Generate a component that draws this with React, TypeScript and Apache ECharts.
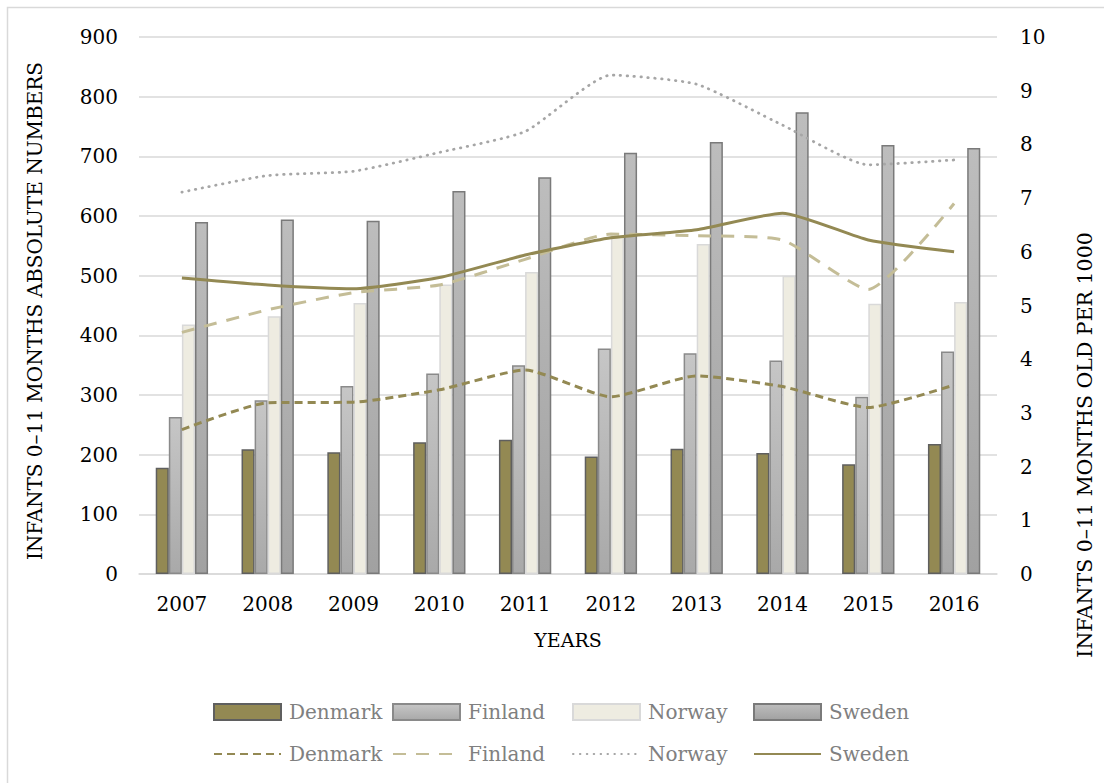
import React, { useEffect, useRef } from "react";
import * as echarts from "echarts";

const years = ["2007", "2008", "2009", "2010", "2011", "2012", "2013", "2014", "2015", "2016"];
const countries = ["Denmark", "Finland", "Norway", "Sweden"];

// Absolute numbers (left axis)
const denmarkAbs = [178, 209, 204, 221, 225, 197, 210, 203, 184, 218];
const finlandAbs = [263, 291, 315, 336, 350, 378, 370, 358, 297, 373];
const norwayAbs = [418, 432, 454, 485, 506, 567, 553, 500, 453, 456];
const swedenAbs = [590, 594, 592, 642, 665, 706, 724, 774, 719, 714];

// Per 1000 (right axis)
const denmarkRate = [2.69, 3.19, 3.2, 3.43, 3.8, 3.3, 3.69, 3.49, 3.1, 3.52];
const finlandRate = [4.5, 4.92, 5.24, 5.38, 5.86, 6.33, 6.3, 6.22, 5.3, 6.9];
const norwayRate = [7.11, 7.42, 7.5, 7.85, 8.24, 9.29, 9.12, 8.36, 7.62, 7.71];
const swedenRate = [5.51, 5.38, 5.31, 5.52, 5.94, 6.26, 6.41, 6.72, 6.22, 6.0];

const leftTicks = { min: 0, max: 900, interval: 100 };
const rightTicks = { min: 0, max: 10, interval: 1 };

const FONT = "DejaVu Serif";

export default function App() {
  const ref = useRef<HTMLDivElement>(null);

  useEffect(() => {
    document.body.style.margin = "0";
    const chart = echarts.init(ref.current!, null, { renderer: "svg" });

    const grad = (top: string, bottom: string) =>
      new echarts.graphic.LinearGradient(0, 0, 0, 1, [
        { offset: 0, color: top },
        { offset: 1, color: bottom },
      ]);

    const barStyles = [
      { color: "#938953", borderColor: "#5f5f5f", borderWidth: 1.5 },
      { color: grad("#c6c6c6", "#a9a9a9"), borderColor: "#8a8a8a", borderWidth: 1.5 },
      { color: "#eeece1", borderColor: "#d9d9d9", borderWidth: 1.5 },
      { color: grad("#bdbdbd", "#a1a1a1"), borderColor: "#7a7a7a", borderWidth: 1.5 },
    ];
    const absData = [denmarkAbs, finlandAbs, norwayAbs, swedenAbs];
    const rateData = [denmarkRate, finlandRate, norwayRate, swedenRate];
    const lineStyles: any[] = [
      { color: "#938953", width: 3, type: [8, 5] },
      { color: "#c4bd97", width: 3, type: [13, 10] },
      { color: "#a6a6a6", width: 2.75, type: [0.5, 6.4], cap: "round" },
      { color: "#938953", width: 3, type: "solid" },
    ];

    const barSeries = countries.map((c, i) => ({
      name: c,
      type: "bar",
      yAxisIndex: 0,
      data: absData[i],
      barGap: "0%",
      barCategoryGap: "39%",
      itemStyle: barStyles[i],
      emphasis: { disabled: true },
    }));
    const lineSeries = countries.map((c, i) => ({
      name: c + " rate",
      type: "line",
      yAxisIndex: 1,
      data: rateData[i],
      smooth: 0.18,
      symbol: "none",
      showSymbol: false,
      lineStyle: lineStyles[i],
      itemStyle: { color: lineStyles[i].color },
      emphasis: { disabled: true },
      z: 3,
    }));

    const iconX = [213, 392, 572, 753];
    const legends: any[] = [];
    countries.forEach((c, i) => {
      legends.push({
        data: [{ name: c, icon: "rect" }],
        left: iconX[i],
        top: 702,
        padding: 0,
        itemWidth: 67,
        itemHeight: 16,
        selectedMode: false,
        textStyle: { fontFamily: FONT, fontSize: 20, color: "#808080", padding: [0, 0, 0, 3] },
      });
      legends.push({
        data: [{ name: c + " rate" }],
        left: iconX[i],
        top: 744,
        padding: 0,
        itemWidth: 67,
        itemHeight: 16,
        selectedMode: false,
        itemStyle: { opacity: 0, borderWidth: 0 },
        formatter: (n: string) => n.replace(" rate", ""),
        textStyle: { fontFamily: FONT, fontSize: 20, color: "#808080", padding: [0, 0, 0, 3] },
      });
    });

    chart.setOption({
      animation: false,
      backgroundColor: "#ffffff",
      grid: { left: 139, right: 107, top: 37, bottom: 209, containLabel: false },
      legend: legends,
      xAxis: {
        type: "category",
        data: years,
        boundaryGap: true,
        axisTick: { show: false },
        axisLine: { lineStyle: { color: "#d9d9d9", width: 1.5 } },
        axisLabel: { fontFamily: FONT, fontSize: 20, color: "#000", margin: 20 },
        name: "YEARS",
        nameLocation: "middle",
        nameGap: 56,
        nameTextStyle: { fontFamily: FONT, fontSize: 19, color: "#000" },
      },
      yAxis: [
        {
          type: "value",
          ...leftTicks,
          position: "left",
          axisLine: { show: false },
          axisTick: { show: false },
          splitLine: { lineStyle: { color: "#d9d9d9", width: 1.5 } },
          axisLabel: { fontFamily: FONT, fontSize: 20, color: "#000", margin: 21 },
        },
        {
          type: "value",
          ...rightTicks,
          position: "right",
          axisLine: { show: false },
          axisTick: { show: false },
          splitLine: { show: false },
          axisLabel: { fontFamily: FONT, fontSize: 20, color: "#000", margin: 23 },
        },
      ],
      graphic: [
        {
          type: "rect",
          shape: { x: 7.5, y: 7.5, width: 1200, height: 900 },
          style: { fill: "none", stroke: "#d9d9d9", lineWidth: 1.5 },
          silent: true,
          z: -10,
        },
        {
          type: "text",
          x: 35,
          y: 311,
          rotation: Math.PI / 2,
          style: {
            text: "INFANTS 0–11 MONTHS ABSOLUTE NUMBERS",
            font: `20px "${FONT}"`,
            fill: "#000",
            align: "center",
            verticalAlign: "middle",
          },
        },
        {
          type: "text",
          x: 1085,
          y: 445,
          rotation: Math.PI / 2,
          style: {
            text: "INFANTS 0–11 MONTHS OLD PER 1000",
            font: `20.5px "${FONT}"`,
            fill: "#000",
            align: "center",
            verticalAlign: "middle",
          },
        },
      ],
      series: [...barSeries, ...lineSeries],
    });

    return () => chart.dispose();
  }, []);

  return <div ref={ref} style={{ width: 1104, height: 783 }} />;
}
